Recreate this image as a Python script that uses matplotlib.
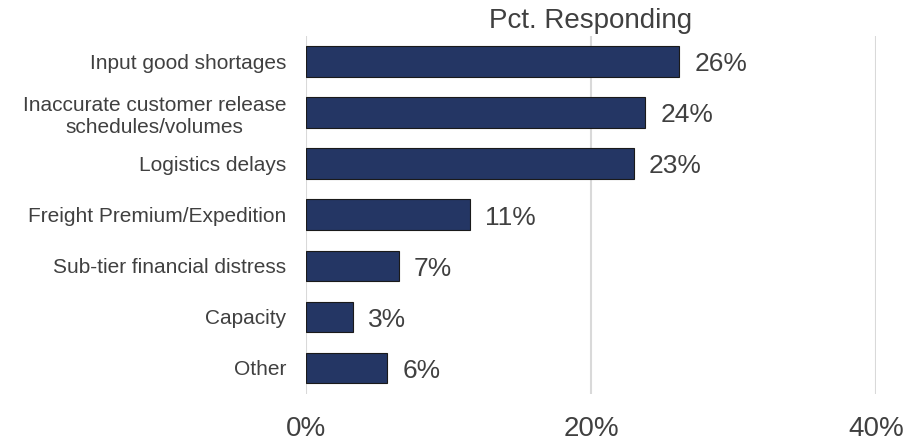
import matplotlib
matplotlib.use("Agg")
import matplotlib.pyplot as plt
from matplotlib.ticker import FuncFormatter

categories = [
    "Input good shortages",
    "Inaccurate customer release\nschedules/volumes",
    "Logistics delays",
    "Freight Premium/Expedition",
    "Sub-tier financial distress",
    "Capacity",
    "Other",
]
values = [26.2, 23.8, 23.0, 11.5, 6.5, 3.3, 5.7]
value_labels = ["26%", "24%", "23%", "11%", "7%", "3%", "6%"]
x_ticks = [0, 20, 40]
title = "Pct. Responding"

plt.rcParams['font.family'] = ['Liberation Sans', 'DejaVu Sans']
text_color = '#404040'

fig = plt.figure(figsize=(9.2, 4.43), dpi=100)
ax = fig.add_axes([306/920, 1 - 393.5/443, (876-306)/920, (393.5-36)/443])

y = list(range(len(categories)))
bars = ax.barh(y, values, height=0.6, color='#243664', edgecolor='#1a1a1a', linewidth=0.8, zorder=3)
ax.set_ylim(len(categories) - 0.5, -0.5)
ax.set_xlim(0, 40)
ax.set_yticks(y)
ax.set_yticklabels(categories, fontsize=15, color=text_color, multialignment='center')
ax.set_xticks(x_ticks)
ax.xaxis.set_major_formatter(FuncFormatter(lambda v, p: f"{v:.0f}%"))
ax.tick_params(axis='x', labelsize=20, labelcolor=text_color, length=0, pad=16)
ax.tick_params(axis='y', length=0, pad=14)
ax.grid(axis='x', color='#d9d9d9', linewidth=1.5, zorder=0)
for s in ax.spines.values():
    s.set_visible(False)

for bar, lab in zip(bars, value_labels):
    ax.annotate(lab, (bar.get_width(), bar.get_y() + bar.get_height() / 2),
                xytext=(11, -2), textcoords='offset points', va='center', ha='left',
                fontsize=19, color=text_color)

ax.set_title(title, fontsize=20, color=text_color, pad=6)

fig.savefig("out.png", dpi=100)
